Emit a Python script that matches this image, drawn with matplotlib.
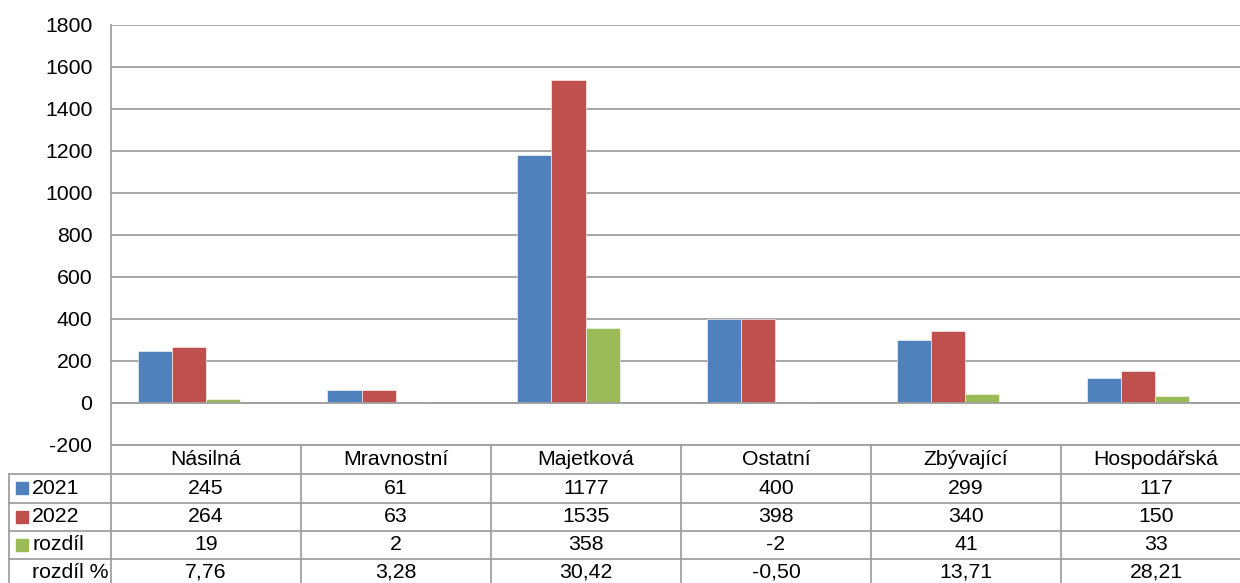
import numpy as np
import matplotlib
matplotlib.use("Agg")
from matplotlib import pyplot as plt
from matplotlib.lines import Line2D
from matplotlib.patches import Rectangle

plt.rcParams['font.family'] = ['Liberation Sans', 'DejaVu Sans']

categories = ['Násilná', 'Mravnostní', 'Majetková', 'Ostatní', 'Zbývající', 'Hospodářská']
v2021 = [245, 61, 1177, 400, 299, 117]
v2022 = [264, 63, 1535, 398, 340, 150]
rozdil = [19, 2, 358, -2, 41, 33]
rozdil_pct = [7.76, 3.28, 30.42, -0.50, 13.71, 28.21]

series_names = ['2021', '2022', 'rozdíl', 'rozdíl %']
colors = ['#4F81BD', '#C0504D', '#9BBB59', None]
yticks = list(range(-200, 2000, 200))

W, H = 1240, 583
grid_c = '#a0a0a0'
fs = 15.3

def fx(x):
    return x / W

def fy(y):
    return 1 - y / H

fig = plt.figure(figsize=(W / 100, H / 100), dpi=100)
# plot area: x 111..1250 px (cropped at right), y 24.5..445 px
ax = fig.add_axes([fx(111), fy(445), (1250 - 111) / W, (445 - 24.5) / H])

x = np.arange(len(categories))
bw = 0.18
data = [v2021, v2022, rozdil, rozdil_pct]
for i, (vals, c) in enumerate(zip(data, colors)):
    off = (i - 1.5) * bw
    if c is None:
        continue  # 4th series has no fill in the original
    ax.bar(x + off, vals, bw, color=c, edgecolor='white', linewidth=0.4, zorder=3)

ax.set_xlim(-0.5, len(categories) - 0.5)
ax.set_ylim(-200, 1800)
ax.set_yticks(yticks)
ax.set_yticklabels([str(t) for t in yticks], fontsize=fs)
ax.tick_params(axis='y', length=0, pad=13.5)
ax.set_xticks([])
ax.grid(axis='y', color=grid_c, linewidth=1.3, zorder=0)
for s in ['top', 'right', 'bottom']:
    ax.spines[s].set_visible(False)
ax.spines['left'].set_color(grid_c)
ax.spines['left'].set_linewidth(1.3)
ax.axhline(0, color=grid_c, linewidth=1.3, zorder=4)

# data table below the plot
col_w = 190
x0 = 111
rows_y = [445, 474, 502.5, 531, 559, 588]
lw = 1.3

def hline(y, xa, xb):
    fig.add_artist(Line2D([fx(xa), fx(xb)], [fy(y), fy(y)], color=grid_c, lw=lw))

def vline(xp, ya, yb):
    fig.add_artist(Line2D([fx(xp), fx(xp)], [fy(ya), fy(yb)], color=grid_c, lw=lw))

hline(rows_y[0], x0, W)
for y in rows_y[1:5]:
    hline(y, 9, W)
vline(9, rows_y[1], H)
vline(x0, rows_y[0], H)
for k in range(1, len(categories)):
    vline(x0 + k * col_w, rows_y[0], H)

for k, cat in enumerate(categories):
    cx = x0 + (k + 0.5) * col_w
    cy = (rows_y[0] + rows_y[1]) / 2
    fig.text(fx(cx), fy(cy), cat, ha='center', va='center', fontsize=fs)

row_texts = [
    [str(v) for v in v2021],
    [str(v) for v in v2022],
    [str(v) for v in rozdil],
    [f"{v:.2f}".replace('.', ',') for v in rozdil_pct],
]
for r, (name, c, texts) in enumerate(zip(series_names, colors, row_texts)):
    cy = (rows_y[r + 1] + rows_y[r + 2]) / 2
    if r == 3:
        cy = (rows_y[4] + 585) / 2
    if c is not None:
        fig.add_artist(Rectangle((fx(16), fy(cy + 6)), 12 / W, 12 / H,
                                 color=c, transform=fig.transFigure))
    fig.text(fx(32), fy(cy), name, ha='left', va='center', fontsize=fs)
    for k, t in enumerate(texts):
        cx = x0 + (k + 0.5) * col_w
        fig.text(fx(cx), fy(cy), t, ha='center', va='center', fontsize=fs)

fig.savefig('out.png', dpi=100)
